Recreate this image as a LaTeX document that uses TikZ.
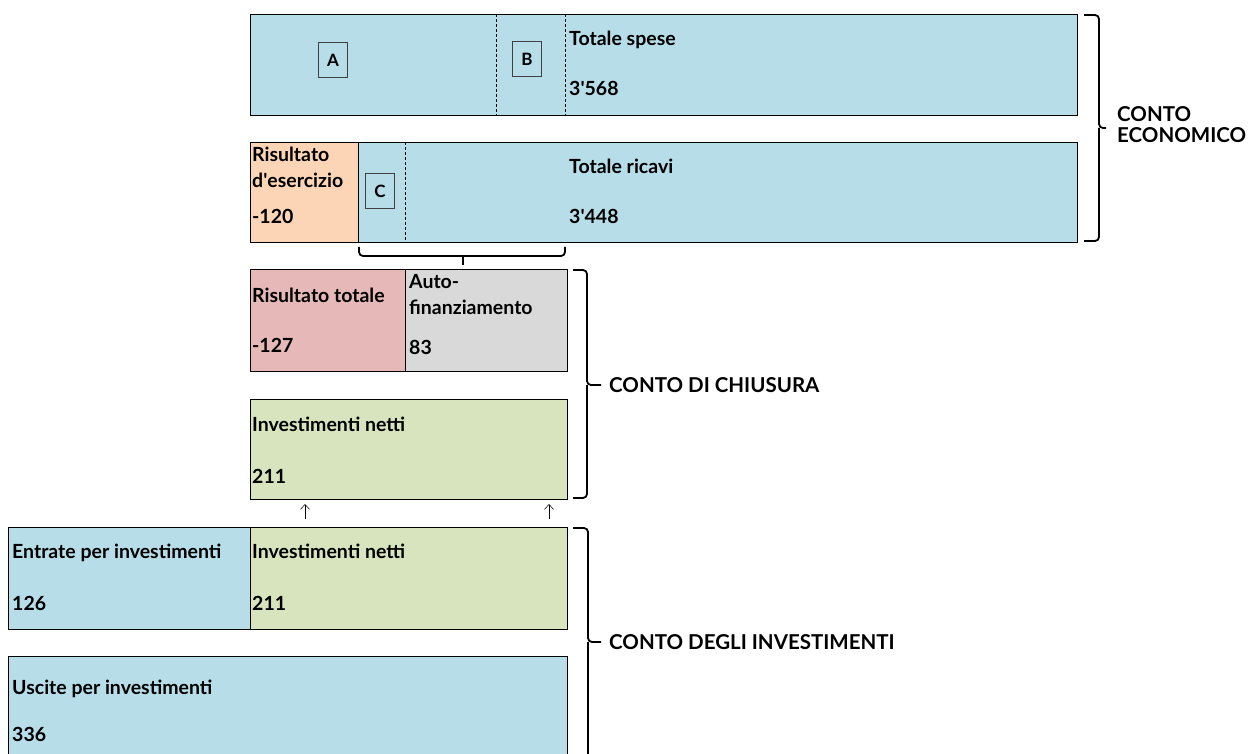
\documentclass[tikz,border=0pt]{standalone}
\usepackage{fontspec}
\setmainfont{Lato}
\usetikzlibrary{arrows.meta}
\definecolor{cblue}{HTML}{B7DDE8}
\definecolor{corange}{HTML}{FBD5B5}
\definecolor{cred}{HTML}{E6B9B8}
\definecolor{cgrey}{HTML}{D9D9D9}
\definecolor{cgreen}{HTML}{D7E4BD}
\begin{document}
\begin{tikzpicture}[x=1pt,y=-1pt,
  cell/.style={draw=black, line width=0.9pt, anchor=north west, inner sep=0pt, outer sep=0pt},
  lbl/.style={anchor=base west, inner sep=0pt, font=\bfseries\fontsize{19.5}{22}\selectfont},
  tag/.style={draw=black!75, line width=0.8pt, fill=cblue, minimum width=29pt, minimum height=35pt, inner sep=0pt, font=\bfseries\fontsize{17}{19}\selectfont},
  brk/.style={line width=1.8pt, rounded corners=4pt},
  sep/.style={line width=0.7pt, dash pattern=on 3pt off 2pt},
  head/.style={anchor=base west, inner sep=0pt, font=\bfseries\fontsize{20.5}{24}\selectfont},
  arr/.style={-{Straight Barb[length=5pt,width=9pt]}, line width=0.5pt}]
\useasboundingbox (0,0) rectangle (1251,754);
% Conto economico
\node[cell, fill=cblue, minimum width=827pt, minimum height=101pt] (spese) at (250,14) {};
\draw[sep] (496,14) -- (496,115);
\draw[sep] (565,14) -- (565,115);
\node[tag] (A) at (333,60) {A};
\node[tag] (B) at (527,59) {B};
\node[lbl] (ts) at (569,46) {Totale spese};
\node[lbl] (tsv) at (569,96) {3\textquotesingle 568};

\node[cell, fill=cblue, minimum width=719pt, minimum height=100pt] (ricavi) at (358,142) {};
\node[cell, fill=corange, minimum width=108pt, minimum height=100pt] (rise) at (250,142) {};
\draw[sep] (405,142) -- (405,242);
\node[tag] (C) at (380,191) {C};
\node[lbl] (re1) at (252,162) {Risultato};
\node[lbl] (re2) at (252,188) {d\textquotesingle esercizio};
\node[lbl] (rev) at (252,224) {-120};
\node[lbl] (tr) at (569,174) {Totale ricavi};
\node[lbl] (trv) at (569,224) {3\textquotesingle 448};
% bracket under
\draw[brk] (359,247) -- (359,256) -- (565,256) -- (565,247);
\draw[line width=1.8pt] (463,256) -- (463,265);

% Conto di chiusura
\node[cell, fill=cred, minimum width=155pt, minimum height=102pt] (rt) at (250,269) {};
\node[cell, fill=cgrey, minimum width=162pt, minimum height=102pt] (af) at (405,269) {};
\node[lbl] (rt1) at (252,302) {Risultato totale};
\node[lbl] (rtv) at (252,352) {-127};
\node[lbl] (af1) at (409,289) {Auto-};
\node[lbl] (af2) at (409,315) {finanziamento};
\node[lbl] (afv) at (409,354) {83};

\node[cell, fill=cgreen, minimum width=317pt, minimum height=100pt] (in1) at (250,399) {};
\node[lbl] (in1t) at (252,431) {Investimenti netti};
\node[lbl] (in1v) at (252,483) {211};

% arrows
\coordinate (a1s) at (305,519);
\coordinate (a2s) at (549,519);
\coordinate (a1e) at (305,504);
\coordinate (a2e) at (549,504);
\draw[arr] (a1s) -- (a1e);
\draw[arr] (a2s) -- (a2e);

% Conto degli investimenti
\node[cell, fill=cblue, minimum width=242pt, minimum height=102pt] (ent) at (8,527) {};
\node[cell, fill=cgreen, minimum width=317pt, minimum height=102pt] (in2) at (250,527) {};
\node[lbl] (entt) at (12,558) {Entrate per investimenti};
\node[lbl] (entv) at (12,610) {126};
\node[lbl] (in2t) at (252,558) {Investimenti netti};
\node[lbl] (in2v) at (252,610) {211};

\node[cell, fill=cblue, minimum width=559pt, minimum height=102pt] (usc) at (8,656) {};
\node[lbl] (usct) at (12,694) {Uscite per investimenti};
\node[lbl] (uscv) at (12,741) {336};

% right brackets
\draw[brk] (1084,15) -- (1099,15) -- (1099,128) -- (1106,128);
\draw[brk] (1084,241) -- (1099,241) -- (1099,128);
\node[head] (ce1) at (1117,122) {CONTO};
\node[head] (ce2) at (1117,143) {ECONOMICO};

\draw[brk] (573,270) -- (587,270) -- (587,385) -- (601,385);
\draw[brk] (573,498) -- (587,498) -- (587,385);
\node[head] (cdc) at (609,392) {CONTO DI CHIUSURA};

\draw[brk] (573,528) -- (588,528) -- (588,642) -- (601,642);
\draw[brk] (588,642) -- (588,760);
\node[head] (cdi) at (609,649) {CONTO DEGLI INVESTIMENTI};
\end{tikzpicture}
\end{document}
